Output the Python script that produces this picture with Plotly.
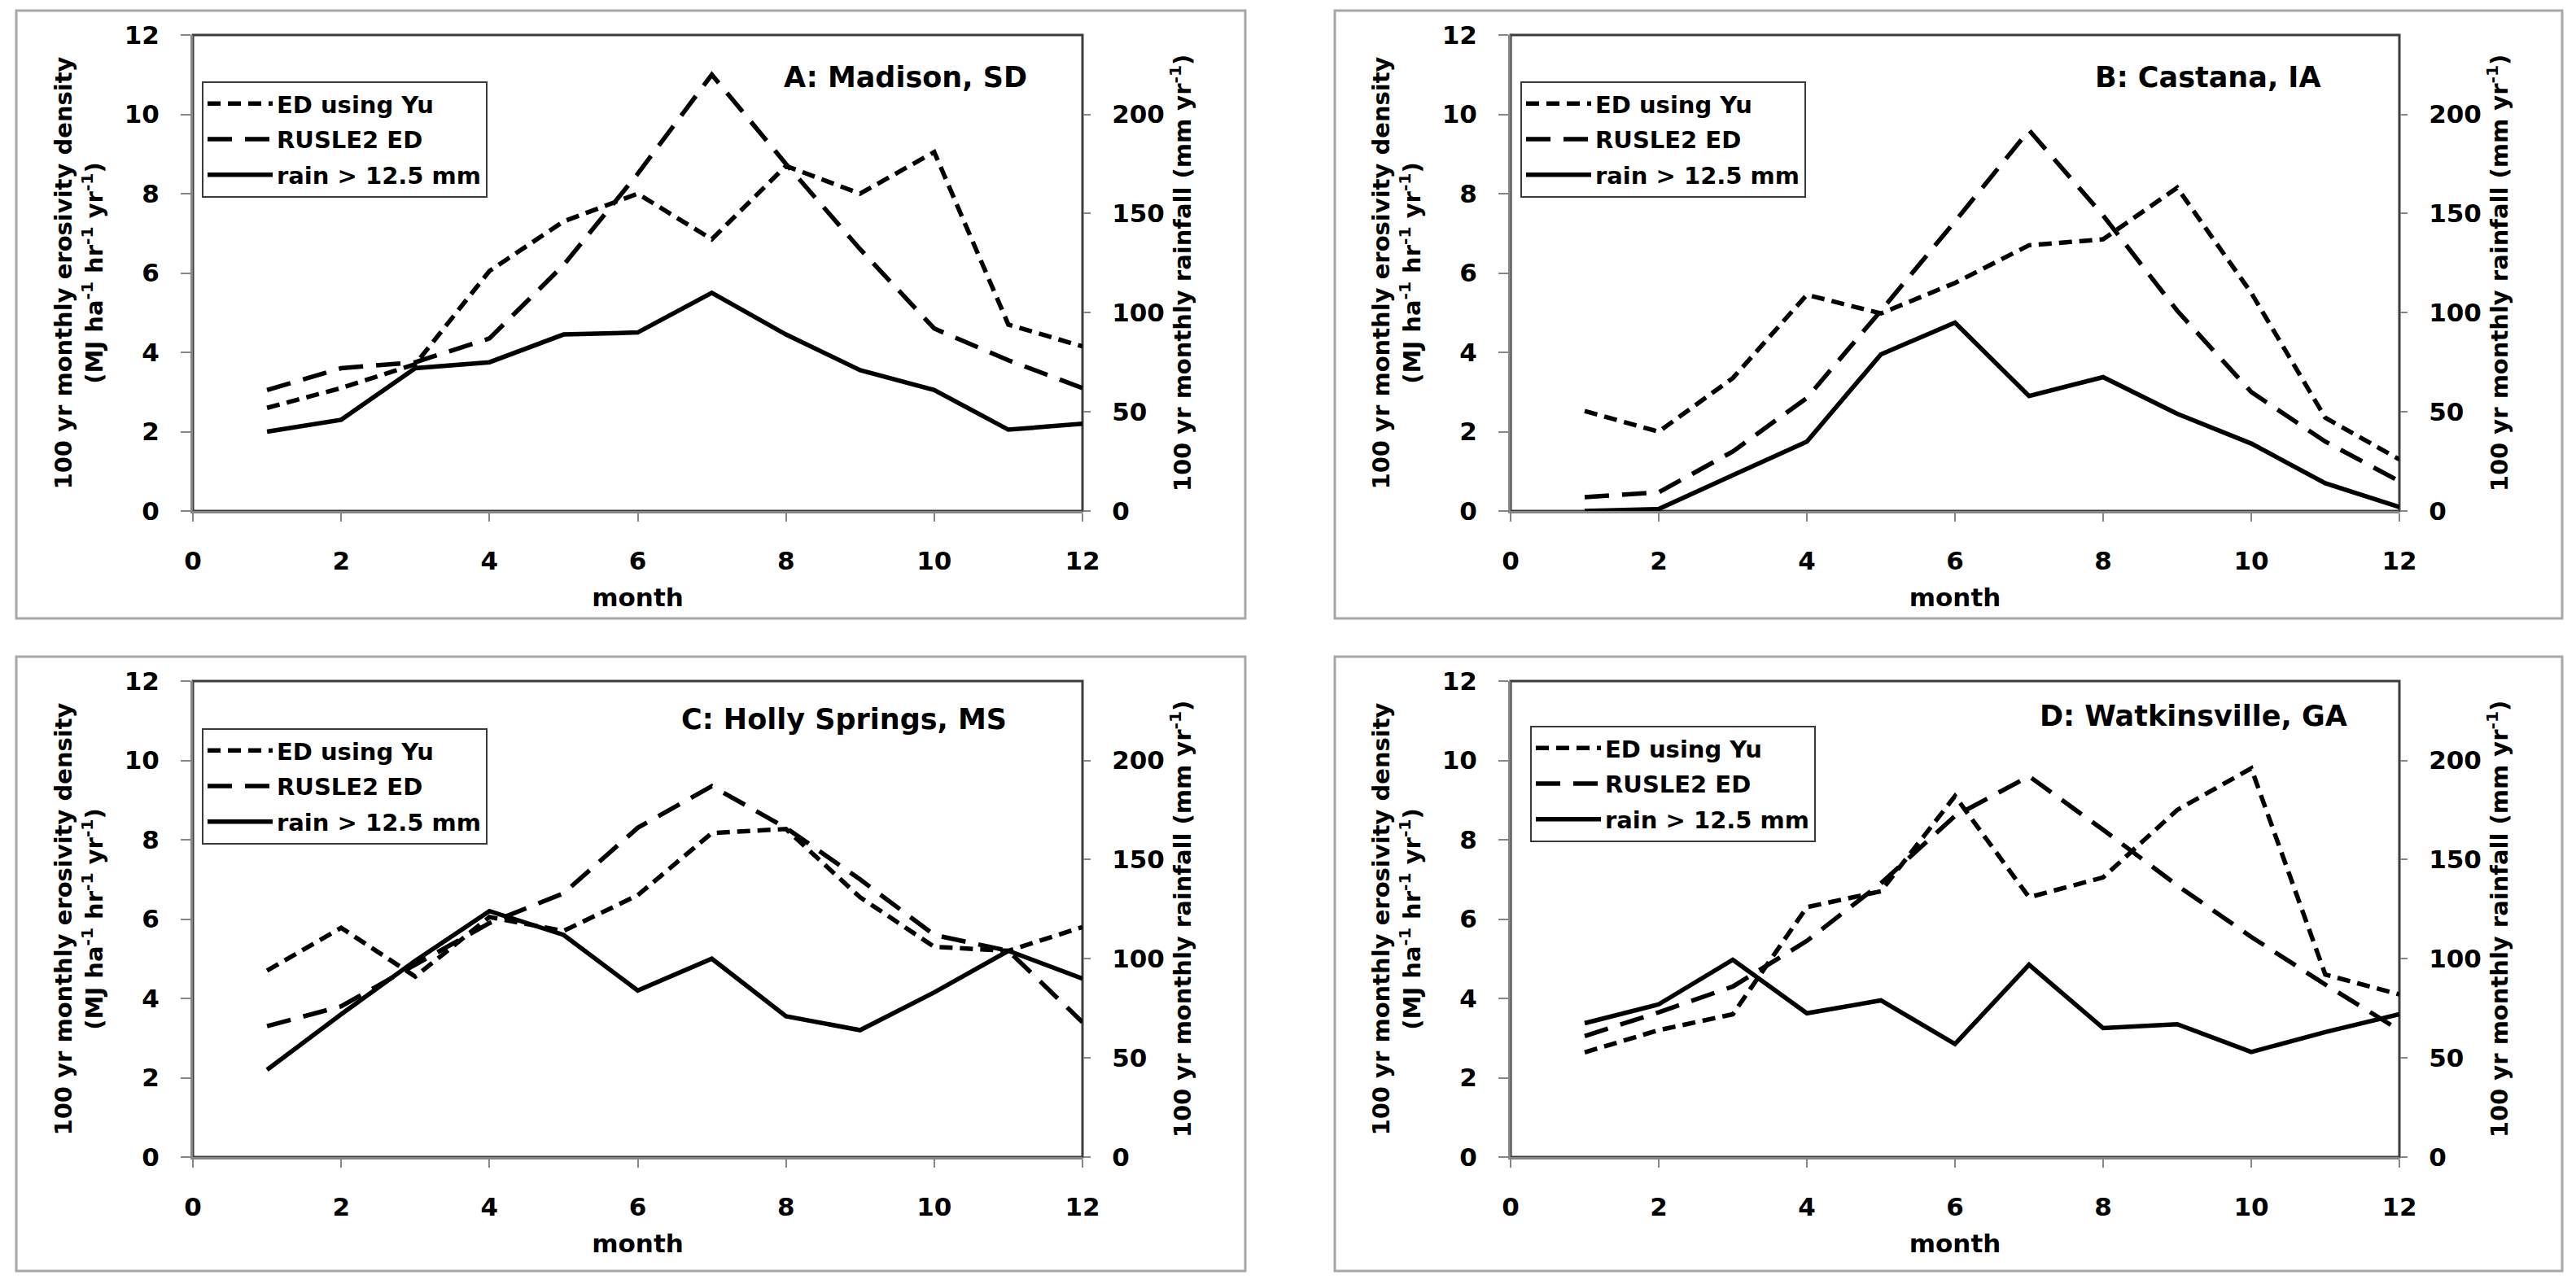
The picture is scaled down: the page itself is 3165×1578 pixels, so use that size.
import plotly.graph_objects as go

# ---------------- data ----------------
months = [1, 2, 3, 4, 5, 6, 7, 8, 9, 10, 11, 12]

site_titles = ["A: Madison, SD", "B: Castana, IA", "C: Holly Springs, MS", "D: Watkinsville, GA"]
series_names = ["ED using Yu", "RUSLE2 ED", "rain > 12.5 mm"]

# ED using Yu (MJ ha-1 hr-1 yr-1)
yu_A = [2.6, 3.1, 3.7, 6.05, 7.3, 8.0, 6.85, 8.7, 8.0, 9.05, 4.7, 4.15]
yu_B = [2.52, 2.0, 3.35, 5.45, 4.98, 5.75, 6.7, 6.85, 8.15, 5.5, 2.35, 1.3]
yu_C = [4.7, 5.78, 4.55, 6.05, 5.7, 6.6, 8.17, 8.27, 6.55, 5.3, 5.2, 5.8]
yu_D = [2.64, 3.2, 3.6, 6.3, 6.7, 9.1, 6.55, 7.05, 8.75, 9.8, 4.6, 4.1]

# RUSLE2 ED (MJ ha-1 hr-1 yr-1)
rusle_A = [3.05, 3.6, 3.75, 4.35, 6.2, 8.5, 11.0, 8.75, 6.6, 4.6, 3.8, 3.1]
rusle_B = [0.35, 0.47, 1.5, 2.85, 5.05, 7.3, 9.6, 7.45, 5.05, 3.0, 1.75, 0.75]
rusle_C = [3.3, 3.8, 4.85, 5.9, 6.65, 8.3, 9.35, 8.3, 7.0, 5.6, 5.2, 3.4]
rusle_D = [3.05, 3.65, 4.3, 5.45, 6.9, 8.6, 9.6, 8.25, 6.85, 5.55, 4.35, 3.2]

# monthly rainfall from storms > 12.5 mm (mm yr-1)
rain_A = [40, 46, 72, 75, 89, 90, 110, 89, 71, 61, 41, 44]
rain_B = [0, 1, 18, 35, 79, 95, 58, 67.5, 49, 34, 14, 2]
rain_C = [44, 72, 99, 124, 112, 84, 100, 71, 64, 83, 104, 90]
rain_D = [67.5, 77, 99.5, 72.5, 79, 57, 97, 65, 67, 53, 63, 72]

x_ticks = [0, 2, 4, 6, 8, 10, 12]
ed_ticks = [0, 2, 4, 6, 8, 10, 12]
rain_ticks = [0, 50, 100, 150, 200]
x_range = [0, 12]
ed_range = [0, 12]
rain_range = [0, 240]

# ---------------- layout geometry (pixels) ----------------
W, H = 3165, 1578
FONT = "DejaVu Sans"
GRAY = "#868686"

panels = [
    dict(yu=yu_A, ru=rusle_A, rain=rain_A, px=(237, 1330), py=(43, 628),
         box=(20, 13, 1530, 760), leg=(248, 100), tpos=(1264, 95)),
    dict(yu=yu_B, ru=rusle_B, rain=rain_B, px=(1856, 2948), py=(43, 628),
         box=(1640, 13, 3148, 760), leg=(1868, 100), tpos=(2853, 95)),
    dict(yu=yu_C, ru=rusle_C, rain=rain_C, px=(237, 1330), py=(837, 1422),
         box=(20, 807, 1530, 1562), leg=(248, 895), tpos=(1239, 884)),
    dict(yu=yu_D, ru=rusle_D, rain=rain_D, px=(1856, 2948), py=(837, 1422),
         box=(1640, 807, 3148, 1562), leg=(1880, 892), tpos=(2886, 880)),
]

dashes = ["16px,9px", "30px,16px", "solid"]

fig = go.Figure()
shapes = []
annotations = []
layout = {}

for i, p in enumerate(panels):
    xname = "x" if i == 0 else f"x{i + 1}"
    yl = f"y{2 * i + 1}" if i > 0 else "y"
    yr = f"y{2 * i + 2}"
    legname = "legend" if i == 0 else f"legend{i + 1}"

    for k, (vals, yax) in enumerate([(p["yu"], yl), (p["ru"], yl), (p["rain"], yr)]):
        fig.add_trace(go.Scatter(
            x=months, y=vals, mode="lines", name=series_names[k],
            line=dict(color="black", width=5.5, dash=dashes[k]),
            xaxis=xname, yaxis=yax, legend=legname,
            legendgroup=f"p{i}s{k}", showlegend=True,
        ))

    xd = [p["px"][0] / W, p["px"][1] / W]
    yd = [1 - p["py"][1] / H, 1 - p["py"][0] / H]
    tickfont = dict(family=FONT, size=31, color="black", weight=700)
    titlefont = dict(family=FONT, size=29, color="black", weight=700)

    layout["xaxis" if i == 0 else f"xaxis{i + 1}"] = dict(
        domain=xd, range=x_range, tickvals=x_ticks, anchor=yl,
        ticks="outside", ticklen=10, tickwidth=2, tickcolor=GRAY,
        showline=True, linecolor=GRAY, linewidth=3,
        showgrid=False, zeroline=False, tickfont=tickfont,
        ticklabelstandoff=22,
        title=dict(text="month", font=dict(family=FONT, size=31, color="black", weight=700), standoff=18),
    )
    layout["yaxis" if i == 0 else f"yaxis{2 * i + 1}"] = dict(
        domain=yd, range=ed_range, tickvals=ed_ticks, anchor=xname,
        ticks="outside", ticklen=12, tickwidth=2, tickcolor=GRAY,
        showline=True, linecolor=GRAY, linewidth=3,
        showgrid=False, zeroline=False, tickfont=tickfont,
        ticklabelstandoff=20,
        title=dict(text="100 yr monthly erosivity density<br>(MJ ha<sup>-1</sup> hr<sup>-1</sup> yr<sup>-1</sup>)",
                   font=titlefont, standoff=18),
    )
    layout[f"yaxis{2 * i + 2}"] = dict(
        overlaying=yl, side="right", anchor=xname,
        range=rain_range, tickvals=rain_ticks,
        ticks="outside", ticklen=9, tickwidth=2, tickcolor=GRAY,
        showline=False, showgrid=False, zeroline=False, tickfont=tickfont,
        ticklabelstandoff=20,
        title=dict(text="100 yr monthly rainfall (mm yr<sup>-1</sup>)", font=titlefont, standoff=12),
    )
    layout[legname] = dict(
        x=p["leg"][0] / W, y=1 - p["leg"][1] / H, xanchor="left", yanchor="top",
        bordercolor="#3a3a3a", borderwidth=2, bgcolor="white",
        font=dict(family=FONT, size=29, color="black", weight=700),
        tracegroupgap=3, traceorder="grouped", itemwidth=80,
    )

    # outer panel frame
    b = p["box"]
    shapes.append(dict(type="rect", xref="paper", yref="paper",
                       x0=b[0] / W, x1=b[2] / W, y0=1 - b[3] / H, y1=1 - b[1] / H,
                       line=dict(color="#a8a8a8", width=3), fillcolor="rgba(0,0,0,0)", layer="below"))
    # plot area border
    shapes.append(dict(type="rect", xref=f"{xname} domain", yref=f"{yl} domain",
                       x0=0, x1=1, y0=0, y1=1,
                       line=dict(color="#3c3c3c", width=3), fillcolor="rgba(0,0,0,0)", layer="below"))
    annotations.append(dict(text=site_titles[i], xref="paper", yref="paper",
                            x=p["tpos"][0] / W, y=1 - p["tpos"][1] / H,
                            xanchor="right", yanchor="middle", showarrow=False,
                            font=dict(family=FONT, size=35, color="black", weight=700)))

fig.update_layout(
    width=W, height=H, margin=dict(l=0, r=0, t=0, b=0, autoexpand=False),
    paper_bgcolor="white", plot_bgcolor="white",
    shapes=shapes, annotations=annotations, **layout,
)

fig.write_html("out.html", config={"displayModeBar": False},
               post_script="document.body.style.margin='0';document.body.style.overflow='hidden';")
